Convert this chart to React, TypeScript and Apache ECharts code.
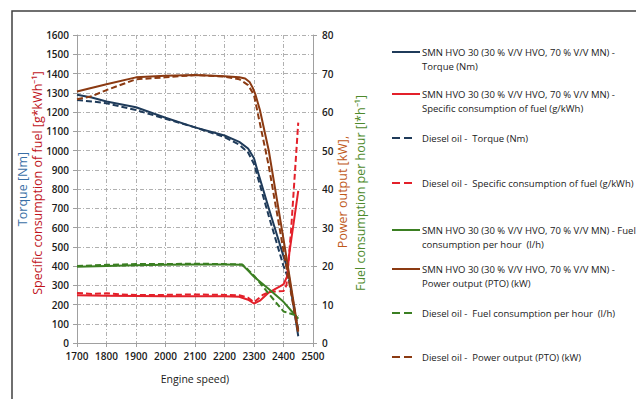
import React, { useEffect, useRef } from "react";
import * as echarts from "echarts";

// ---- data ----
const torqueHvoSpeed = [1700, 1750, 1800, 1900, 2000, 2100, 2200, 2250, 2280, 2300, 2310, 2350, 2400, 2415, 2450];
const torqueHvo = [1290, 1275, 1255, 1225, 1170, 1120, 1078, 1045, 1010, 960, 905, 700, 450, 380, 35];

const torqueDieselSpeed = [1700, 1750, 1800, 1900, 2000, 2100, 2200, 2250, 2280, 2300, 2350, 2400, 2420, 2450];
const torqueDiesel = [1262, 1255, 1245, 1210, 1165, 1120, 1070, 1030, 990, 930, 660, 400, 320, 70];

const sfcHvoSpeed = [1700, 1800, 1900, 2000, 2100, 2200, 2250, 2280, 2300, 2320, 2350, 2400, 2412, 2420, 2450];
const sfcHvo = [248, 245, 244, 243, 243, 243, 240, 225, 205, 220, 262, 305, 345, 470, 790];

const sfcDieselSpeed = [1700, 1750, 1800, 1850, 1900, 2000, 2100, 2200, 2250, 2280, 2300, 2330, 2350, 2400, 2410, 2425, 2450];
const sfcDiesel = [260, 255, 258, 252, 250, 250, 252, 250, 248, 235, 212, 250, 265, 270, 300, 570, 1145];

const fuelHvoSpeed = [1700, 1800, 1900, 2000, 2100, 2200, 2260, 2280, 2300, 2350, 2400, 2450];
const fuelHvo = [19.8, 20, 20.2, 20.3, 20.4, 20.4, 20.3, 18.8, 17.2, 14, 10.7, 6.3];

const fuelDieselSpeed = [1700, 1800, 1900, 2000, 2100, 2200, 2260, 2280, 2300, 2350, 2400, 2450];
const fuelDiesel = [20, 20.3, 20.5, 20.5, 20.6, 20.5, 20.4, 19, 17.5, 12.8, 8.2, 7];

const powerHvoSpeed = [1700, 1800, 1900, 2000, 2100, 2200, 2250, 2270, 2285, 2295, 2305, 2320, 2350, 2400, 2450];
const powerHvo = [65.3, 67.2, 69, 69.4, 69.6, 69.3, 69, 68.7, 67.8, 66.4, 64.5, 60.5, 50, 27, 3];

const powerDieselSpeed = [1700, 1750, 1800, 1900, 2000, 2100, 2200, 2250, 2280, 2300, 2350, 2400, 2450];
const powerDiesel = [63.3, 64.1, 65.7, 68.5, 69, 69.6, 69.2, 68.5, 67, 64.4, 46, 24, 2.5];

const xTicks = { min: 1700, max: 2500, step: 100 };
const leftTicks = { min: 0, max: 1600, step: 100 };
const rightTicks = { min: 0, max: 80, step: 10 };

const legendNames = [
  "SMN HVO 30 (30 % V/V HVO, 70 % V/V MN) -\nTorque (Nm)",
  "SMN HVO 30 (30 % V/V HVO, 70 % V/V MN) -\nSpecific consumption of fuel (g/kWh)",
  "Diesel oil -  Torque (Nm)",
  "Diesel oil -  Specific consumption of fuel (g/kWh)",
  "SMN HVO 30 (30 % V/V HVO, 70 % V/V MN) - Fuel\nconsumption per hour  (l/h)",
  "SMN HVO 30 (30 % V/V HVO, 70 % V/V MN) -\nPower output (PTO) (kW)",
  "Diesel oil -  Fuel consumption per hour  (l/h)",
  "Diesel oil -  Power output (PTO) (kW)",
];

const NAVY = "#1F3B5A";
const RED = "#E3202A";
const GREEN = "#3B7F22";
const BROWN = "#8B3A12";
const FONT = "'Open Sans', sans-serif";

function pairs(xs: number[], ys: number[]) {
  return xs.map((x, i) => [x, ys[i]]);
}

export default function App() {
  const ref = useRef<HTMLDivElement>(null);
  useEffect(() => {
    if (!ref.current) return;
    const chart = echarts.init(ref.current, undefined, { renderer: "svg" });

    const seriesDefs = [
      { name: legendNames[0], data: pairs(torqueHvoSpeed, torqueHvo), color: NAVY, dashed: false, y: 0 },
      { name: legendNames[1], data: pairs(sfcHvoSpeed, sfcHvo), color: RED, dashed: false, y: 0 },
      { name: legendNames[2], data: pairs(torqueDieselSpeed, torqueDiesel), color: NAVY, dashed: true, y: 0 },
      { name: legendNames[3], data: pairs(sfcDieselSpeed, sfcDiesel), color: RED, dashed: true, y: 0 },
      { name: legendNames[4], data: pairs(fuelHvoSpeed, fuelHvo), color: GREEN, dashed: false, y: 1 },
      { name: legendNames[5], data: pairs(powerHvoSpeed, powerHvo), color: BROWN, dashed: false, y: 1 },
      { name: legendNames[6], data: pairs(fuelDieselSpeed, fuelDiesel), color: GREEN, dashed: true, y: 1 },
      { name: legendNames[7], data: pairs(powerDieselSpeed, powerDiesel), color: BROWN, dashed: true, y: 1 },
    ];

    const legendY = [52, 94, 138, 183, 230, 269, 313, 357];
    const legendGraphics: any[] = [];
    seriesDefs.forEach((s, i) => {
      const y = legendY[i];
      legendGraphics.push({
        type: "line",
        shape: { x1: 392, y1: y, x2: s.dashed ? 412 : 420, y2: y },
        style: { stroke: s.color, lineWidth: 2, lineDash: s.dashed ? [8, 4] : null },
      });
      legendGraphics.push({
        type: "text",
        x: 422,
        y: y - 7,
        style: {
          text: s.name,
          fill: "#222",
          font: `9.5px ${FONT}`,
          lineHeight: 14,
          verticalAlign: "top",
          align: "left",
        },
      });
    });

    const gridLine = { show: true, lineStyle: { color: "#B0B0B0", type: [4, 2, 1, 2] as any, width: 1 } };
    const axisLine = { show: true, lineStyle: { color: "#A0A0A0", width: 1 } };
    const axisTick = { show: true, length: 4, lineStyle: { color: "#A0A0A0" } };
    const label = {
      fontFamily: FONT,
      fontSize: 10,
      color: "#1a1a1a",
      fontWeight: 600 as any,
      formatter: (v: number) => String(v),
    };

    chart.setOption({
      animation: false,
      backgroundColor: "#fff",
      grid: { left: 77, top: 35, width: 236, height: 308, containLabel: false },
      xAxis: {
        type: "value",
        min: xTicks.min,
        max: xTicks.max,
        interval: xTicks.step,
        name: "Engine speed)",
        nameLocation: "middle",
        nameGap: 30,
        nameTextStyle: { fontFamily: FONT, fontSize: 10.5, color: "#1a1a1a" },
        axisLine,
        axisTick,
        splitLine: gridLine,
        axisLabel: { ...label, margin: 8 },
      },
      yAxis: [
        {
          type: "value",
          min: leftTicks.min,
          max: leftTicks.max,
          interval: leftTicks.step,
          axisLine,
          axisTick,
          splitLine: gridLine,
          axisLabel: { ...label, margin: 8 },
        },
        {
          type: "value",
          position: "right",
          min: rightTicks.min,
          max: rightTicks.max,
          interval: rightTicks.step,
          axisLine,
          axisTick,
          splitLine: { show: false },
          axisLabel: { ...label, margin: 9 },
        },
      ],
      series: seriesDefs.map((s) => ({
        type: "line",
        name: s.name,
        yAxisIndex: s.y,
        data: s.data,
        showSymbol: false,
        symbol: "none",
        smooth: false,
        lineStyle: { color: s.color, width: 2, type: s.dashed ? [6, 3] : "solid", join: "round" },
        itemStyle: { color: s.color },
      })),
      graphic: [
        {
          type: "polyline",
          shape: { points: [[12, 399], [12, 11], [636, 11]] },
          style: { stroke: "#404040", lineWidth: 1.5, fill: null },
        },
        {
          type: "text",
          x: 22,
          y: 189,
          rotation: Math.PI / 2,
          style: { text: "Torque [Nm]", fill: "#3A6FA6", font: `12.5px ${FONT}`, align: "center", verticalAlign: "middle" },
        },
        {
          type: "text",
          x: 37,
          y: 183,
          rotation: Math.PI / 2,
          style: {
            text: "Specific consumption of fuel [g*kWh⁻¹]",
            fill: "#C0141C",
            font: `12.5px ${FONT}`,
            align: "center",
            verticalAlign: "middle",
          },
        },
        {
          type: "text",
          x: 342,
          y: 192,
          rotation: Math.PI / 2,
          style: { text: "Power output [kW],", fill: "#C0581A", font: `12.5px ${FONT}`, align: "center", verticalAlign: "middle" },
        },
        {
          type: "text",
          x: 360,
          y: 193,
          rotation: Math.PI / 2,
          style: {
            text: "Fuel consumption per hour [l*h⁻¹]",
            fill: "#4E8A2C",
            font: `12.5px ${FONT}`,
            align: "center",
            verticalAlign: "middle",
          },
        },
        ...legendGraphics,
      ],
    });
    return () => chart.dispose();
  }, []);
  return <div ref={ref} style={{ position: "fixed", left: 0, top: 0, width: 636, height: 399 }} />;
}
